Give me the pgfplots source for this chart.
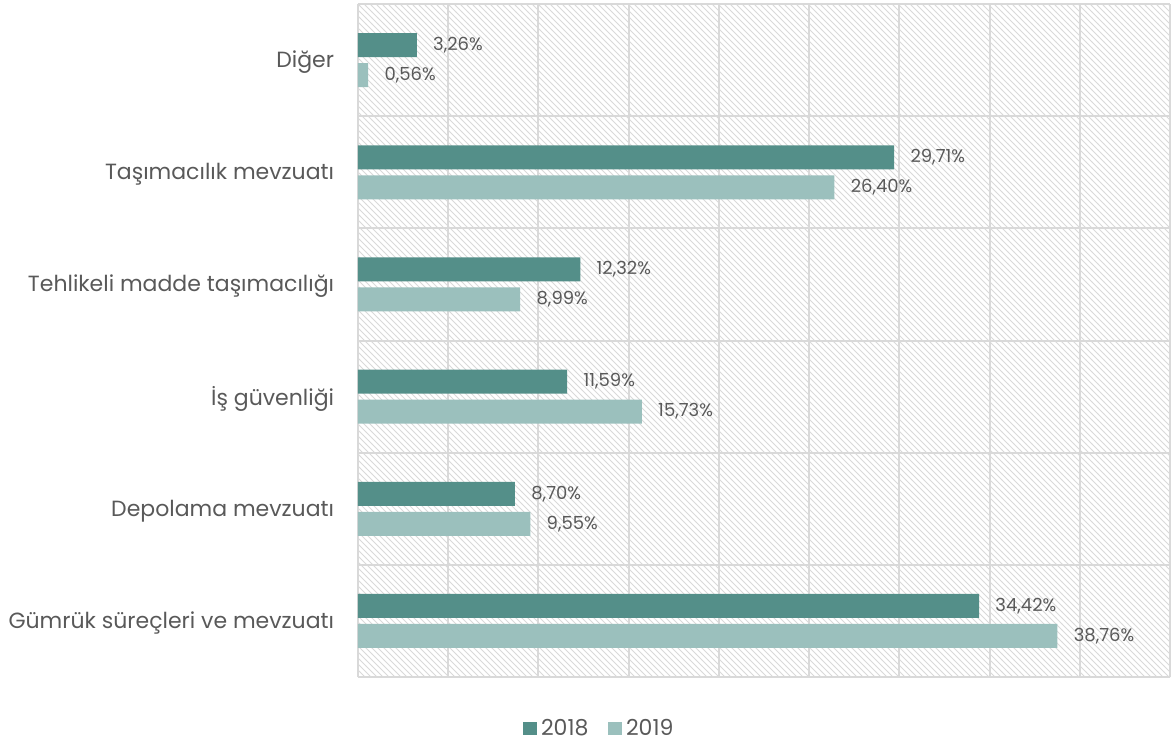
\documentclass[border=0pt]{standalone}
\usepackage{pgfplots}
\pgfplotsset{compat=1.18}
\usepackage{fontspec}
\setmainfont{Poppins}
\usetikzlibrary{patterns}
\definecolor{c18}{HTML}{548F89}
\definecolor{c19}{HTML}{9BC0BD}
\definecolor{gridc}{HTML}{D9D9D9}
\definecolor{txt}{HTML}{595959}
\definecolor{hatch}{HTML}{D9D9D9}
\begin{document}
\begin{tikzpicture}
\path[use as bounding box] (-179pt,-33.5pt) rectangle (406.5pt,338.5pt);
\begin{axis}[
  at={(0,0)}, anchor=south west,
  scale only axis, width=406pt, height=336.5pt,
  xmin=0, xmax=45, ymin=-0.5, ymax=5.5,
  xbar, bar width=12pt, bar shift=0pt,
  xtick={0,5,...,45}, xticklabels={}, xmajorgrids=true,
  ytick={0,...,5},
  yticklabels={Gümrük süreçleri ve mevzuatı, Depolama mevzuatı, İş güvenliği, Tehlikeli madde taşımacılığı, Taşımacılık mevzuatı, Diğer},
  extra y ticks={-0.5,0.5,...,5.5}, extra y tick labels={},
  extra y tick style={grid=major, major tick length=4pt, tick align=outside, tick style={draw=gridc, line width=1pt}},
  ytick pos=left, xtick pos=bottom,
  xtick style={draw=none}, ytick style={draw=none},
  grid style={draw=gridc, line width=1pt},
  axis line style={draw=none},
  axis background/.style={pattern=north west lines, pattern color=hatch},
  yticklabel style={font=\fontsize{11}{13}\selectfont, text=txt, inner sep=0pt, xshift=-7.5pt, yshift=-1pt},
  point meta=x,
  nodes near coords={\pgfmathprintnumber[fixed, fixed zerofill, precision=2, use comma, assume math mode=true]{\pgfplotspointmeta}\%},
  nodes near coords style={font=\fontsize{9}{10}\selectfont, text=txt, inner sep=0pt, anchor=west, xshift=8pt},
  legend style={at={(0.2986,-0.0765)}, anchor=center, draw=none, fill=none, font=\fontsize{11}{13}\selectfont, text=txt, legend columns=2, /tikz/every even column/.append style={column sep=8pt}},
  legend image code/.code={\fill[#1] (0pt,-3.4pt) rectangle (6.8pt,3.4pt);},
]
\addplot[fill=c18, draw=none] coordinates {(34.42,0.1337) (8.70,1.1337) (11.59,2.1337) (12.32,3.1337) (29.71,4.1337) (3.26,5.1337)};
\addplot[fill=c19, draw=none] coordinates {(38.76,-0.1337) (9.55,0.8663) (15.73,1.8663) (8.99,2.8663) (26.40,3.8663) (0.56,4.8663)};
\legend{2018, 2019}
\end{axis}
\end{tikzpicture}
\end{document}
